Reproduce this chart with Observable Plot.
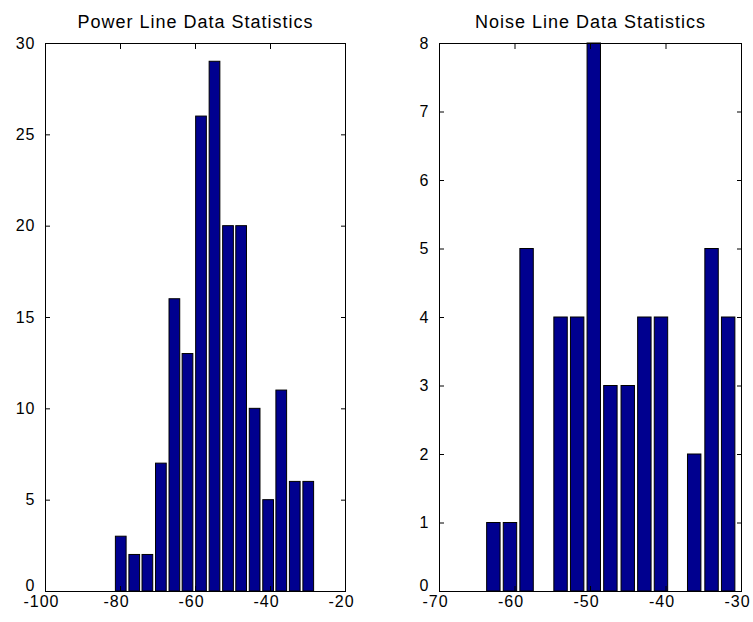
<!DOCTYPE html>
<html><head><meta charset="utf-8">
<script src="https://cdn.jsdelivr.net/npm/d3@7"></script>
<script src="https://cdn.jsdelivr.net/npm/@observablehq/plot@0.6"></script>
<style>
body{margin:0;background:#fff;}
#wrap{display:flex;width:753px;height:622px;}
#wrap svg{display:block;}
</style></head><body><div id="wrap"></div>
<script>
const powerTitle = "Power Line Data Statistics";
const powerCenters = [-79.8,-76.2,-72.7,-69.1,-65.5,-62.0,-58.4,-54.8,-51.2,-47.7,-44.1,-40.5,-37.0,-33.4,-29.8];
const powerCounts = [3,2,2,7,16,13,26,29,20,20,10,5,11,6,6];
const powerXTicks = [-100,-80,-60,-40,-20];
const powerYTicks = [0,5,10,15,20,25,30];

const noiseTitle = "Noise Line Data Statistics";
const noiseCenters = [-62.8,-60.6,-58.4,-56.1,-53.9,-51.7,-49.5,-47.3,-45.0,-42.8,-40.6,-38.4,-36.2,-33.9,-31.7];
const noiseCounts = [1,1,5,0,4,4,8,3,3,4,4,0,2,5,4];
const noiseXTicks = [-70,-60,-50,-40,-30];
const noiseYTicks = [0,1,2,3,4,5,6,7,8];

const barFill = "#00008F";
const fontFam = "'Liberation Sans', Arial, sans-serif";
const fmt = d => String(d);
const none = () => "";

function hist(title, centers, counts, xTicks, yTicks, width, marginLeft, marginRight) {
  const step = (centers[centers.length - 1] - centers[0]) / (centers.length - 1);
  const data = centers.map((c, i) => ({x1: c - 0.4 * step, x2: c + 0.4 * step, y: counts[i]})).filter(d => d.y > 0);
  return Plot.plot({
    width, height: 622,
    marginLeft, marginRight, marginTop: 43, marginBottom: 31,
    x: {domain: [xTicks[0], xTicks[xTicks.length - 1]], label: null},
    y: {domain: [yTicks[0], yTicks[yTicks.length - 1]], label: null},
    style: {fontSize: "16px", fontFamily: fontFam, background: "white", color: "black", overflow: "visible", letterSpacing: "1px"},
    marks: [
      Plot.rectY(data, {x1: "x1", x2: "x2", y: "y", fill: barFill, stroke: "black", strokeWidth: 1}),
      Plot.frame({stroke: "black"}),
      Plot.axisX(xTicks, {anchor: "bottom", tickSize: -5, tickFormat: none, label: null}),
      Plot.axisX(xTicks, {anchor: "bottom", tickSize: 0, tickPadding: 4, tickFormat: fmt, dx: -4, label: null}),
      Plot.axisX(xTicks, {anchor: "top", tickSize: -5, tickFormat: none, label: null}),
      Plot.axisY(yTicks, {anchor: "left", tickSize: -5, tickFormat: none, label: null}),
      Plot.axisY(yTicks.filter(v => v > 0), {anchor: "left", tickSize: 0, tickPadding: 10, tickFormat: fmt, label: null}),
      Plot.axisY([yTicks[0]], {anchor: "left", tickSize: 0, tickPadding: 10, dy: -6, tickFormat: fmt, label: null}),
      Plot.axisY(yTicks, {anchor: "right", tickSize: -5, tickFormat: none, label: null}),
      Plot.text([title], {frameAnchor: "top", lineAnchor: "bottom", dy: -16, fontSize: 18, text: d => d})
    ]
  });
}

const wrap = document.getElementById("wrap");
wrap.append(hist(powerTitle, powerCenters, powerCounts, powerXTicks, powerYTicks, 376, 45, 31));
wrap.append(hist(noiseTitle, noiseCenters, noiseCounts, noiseXTicks, noiseYTicks, 377, 63, 12));
</script></body></html>
